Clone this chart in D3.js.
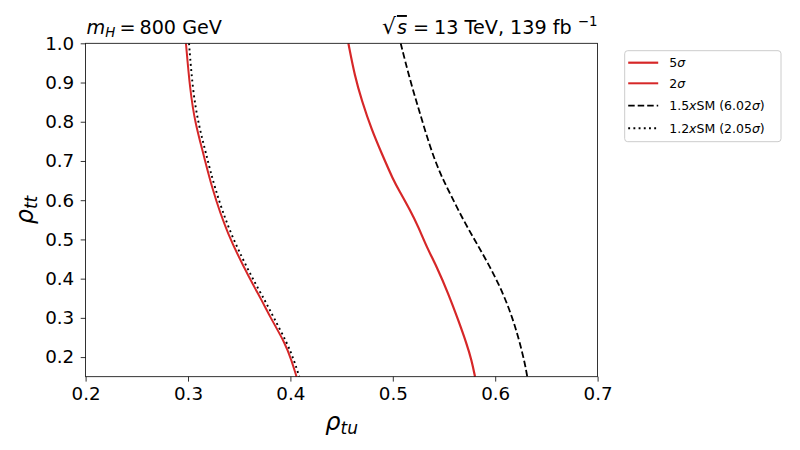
<!DOCTYPE html>
<html lang="en">
<head>
<meta charset="utf-8">
<title>rho_tu vs rho_tt significance contours</title>
<script src="https://cdn.jsdelivr.net/npm/d3@7"></script>
<style>
  body { margin: 0; background: #fff; }
  text { font-family: "DejaVu Sans", sans-serif; fill: #000; }
</style>
</head>
<body>
<script>
// contour data: [rho_tu, rho_tt]
var sig5 = [[0.4566, 1.0], [0.463, 0.915], [0.4696, 0.855], [0.4794, 0.779], [0.4892, 0.719],
  [0.5005, 0.651], [0.507, 0.621], [0.5168, 0.575], [0.525, 0.532], [0.533, 0.481],
  [0.543, 0.430], [0.5542, 0.362], [0.564, 0.294], [0.572, 0.235], [0.577, 0.192], [0.5803, 0.15]];
var sig2 = [[0.298, 1.0], [0.302, 0.881], [0.307, 0.796], [0.315, 0.719], [0.323, 0.634],
  [0.338, 0.515], [0.361, 0.396], [0.372, 0.345], [0.380, 0.303], [0.395, 0.235],
  [0.401, 0.192], [0.406, 0.15]];
var sm15 = [[0.5077, 1.0], [0.5168, 0.906], [0.5266, 0.821], [0.5363, 0.736], [0.5461, 0.668],
  [0.5559, 0.617], [0.5689, 0.549], [0.5819, 0.490], [0.595, 0.430], [0.6079, 0.362],
  [0.6177, 0.294], [0.6242, 0.235], [0.629, 0.184], [0.6313, 0.15]];
var sm12 = [[0.301, 1.0], [0.3046, 0.881], [0.310, 0.796], [0.3176, 0.719], [0.3257, 0.634],
  [0.341, 0.515], [0.3638, 0.396], [0.375, 0.345], [0.3833, 0.303], [0.397, 0.235],
  [0.4035, 0.192], [0.4087, 0.15]];

var xTicks = [0.2, 0.3, 0.4, 0.5, 0.6, 0.7];
var yTicks = [0.2, 0.3, 0.4, 0.5, 0.6, 0.7, 0.8, 0.9, 1.0];

var red = "#d62728";
var series = [
  { name: "5σ", data: sig5, color: red, width: 2.2, dash: null },
  { name: "2σ", data: sig2, color: red, width: 2, dash: null },
  { name: "1.5xSM (6.02σ)", data: sm15, color: "#000", width: 1.8, dash: "6.5,3" },
  { name: "1.2xSM (2.05σ)", data: sm12, color: "#000", width: 1.9, dash: "1.9,3.3" }
];

var width = 800, height = 450;
var plot_left = 85.6, plot_right = 597.6, plot_top = 43.3, plot_bottom = 376.7;
var tick_font = "18.3px";
var title_font = "19.2px";
var small_font = "13.4px";

var svg = d3.select("body").append("svg").attr("width", width).attr("height", height);

var x = d3.scaleLinear().domain([0.2, 0.7]).range([plot_left, plot_right]);
var y = d3.scaleLinear().domain([0.15, 1.0]).range([plot_bottom, plot_top]);

svg.append("clipPath").attr("id", "plot")
  .append("rect").attr("x", plot_left).attr("y", plot_top)
  .attr("width", plot_right - plot_left).attr("height", plot_bottom - plot_top);

var line = d3.line()
  .x(function (d) { return x(d[0]); })
  .y(function (d) { return y(d[1]); })
  .curve(d3.curveBasis);

svg.append("g").attr("clip-path", "url(#plot)")
  .selectAll("path")
  .data(series)
  .enter()
  .append("path")
  .attr("d", function (d) { return line(d.data); })
  .attr("fill", "none")
  .attr("stroke", function (d) { return d.color; })
  .attr("stroke-width", function (d) { return d.width; })
  .attr("stroke-dasharray", function (d) { return d.dash; });

// axes
var xAxis = d3.axisBottom(x).tickValues(xTicks).tickFormat(d3.format(".1f")).tickSize(4.9).tickPadding(5.7);
var yAxis = d3.axisLeft(y).tickValues(yTicks).tickFormat(d3.format(".1f")).tickSize(4.9).tickPadding(6.5);

var gx = svg.append("g").attr("transform", "translate(0," + plot_bottom + ")").call(xAxis);
var gy = svg.append("g").attr("transform", "translate(" + plot_left + ",0)").call(yAxis);
[gx, gy].forEach(function (g) {
  g.select(".domain").remove();
  g.selectAll("line").attr("stroke", "#000").attr("stroke-width", 0.8);
  g.selectAll("text").style("font-size", tick_font).style("font-family", "DejaVu Sans");
});

svg.append("rect")
  .attr("x", plot_left).attr("y", plot_top)
  .attr("width", plot_right - plot_left).attr("height", plot_bottom - plot_top)
  .attr("fill", "none").attr("stroke", "#000").attr("stroke-width", 0.8);

// axis labels
var xl = svg.append("text").attr("x", (plot_left + plot_right) / 2).attr("y", 430)
  .attr("text-anchor", "middle").style("font-size", "24px");
xl.append("tspan").style("font-style", "italic").text("ρ");
xl.append("tspan").style("font-style", "italic").style("font-size", "17px").attr("dy", 4).text("tu");

var yl = svg.append("text").attr("transform", "translate(33," + (plot_top + plot_bottom) / 2 + ") rotate(-90)")
  .attr("text-anchor", "middle").style("font-size", "24px");
yl.append("tspan").style("font-style", "italic").text("ρ");
yl.append("tspan").style("font-style", "italic").style("font-size", "17px").attr("dy", 4).text("tt");

// titles
var t1 = svg.append("text").attr("x", plot_left + 1).attr("y", 34).style("font-size", title_font);
t1.append("tspan").style("font-style", "italic").text("m");
t1.append("tspan").style("font-style", "italic").style("font-size", small_font).attr("dy", 3).text("H");
t1.append("tspan").attr("dy", -3).attr("dx", 4).text("=");
t1.append("tspan").attr("dx", 4).text("800 GeV");

var t2 = svg.append("text").attr("x", plot_right).attr("y", 34).attr("text-anchor", "end").style("font-size", title_font);
t2.append("tspan").style("font-size", "22px").text("√");
t2.append("tspan").attr("dx", 1).style("font-style", "italic").style("text-decoration", "overline").text("s");
t2.append("tspan").attr("dx", 6).text("=");
t2.append("tspan").attr("dx", 5).text("13 TeV, 139 fb ");
t2.append("tspan").style("font-size", small_font).attr("dy", -8).text("−1");

// legend
var lg = svg.append("g").attr("transform", "translate(624.7,50.7)");
lg.append("rect").attr("width", 156.3).attr("height", 91).attr("rx", 3)
  .attr("fill", "#fff").attr("fill-opacity", 0.8).attr("stroke", "#ccc").attr("stroke-width", 1);
var rowY = [12, 32.6, 55, 77.6];
var rows = lg.selectAll("g.row").data(series).enter().append("g")
  .attr("transform", function (d, i) { return "translate(0," + rowY[i] + ")"; });
rows.append("line").attr("x1", 3.5).attr("x2", 33.5).attr("y1", 0).attr("y2", 0)
  .attr("stroke", function (d) { return d.color; })
  .attr("stroke-width", function (d) { return d.width; })
  .attr("stroke-dasharray", function (d) { return d.dash; });
var lt = rows.append("text").attr("x", 44.5).attr("y", 4.5).style("font-size", "12.5px");
lt.each(function (d) {
  var t = d3.select(this);
  var m = d.name.match(/^([\d.]+)x(SM \([\d.]+)σ\)$/);
  if (m) {
    t.append("tspan").text(m[1]);
    t.append("tspan").style("font-style", "italic").text("x");
    t.append("tspan").text(m[2]);
    t.append("tspan").style("font-style", "italic").text("σ");
    t.append("tspan").text(")");
  } else {
    t.append("tspan").text(d.name.replace("σ", ""));
    t.append("tspan").style("font-style", "italic").text("σ");
  }
});
</script>
</body>
</html>
